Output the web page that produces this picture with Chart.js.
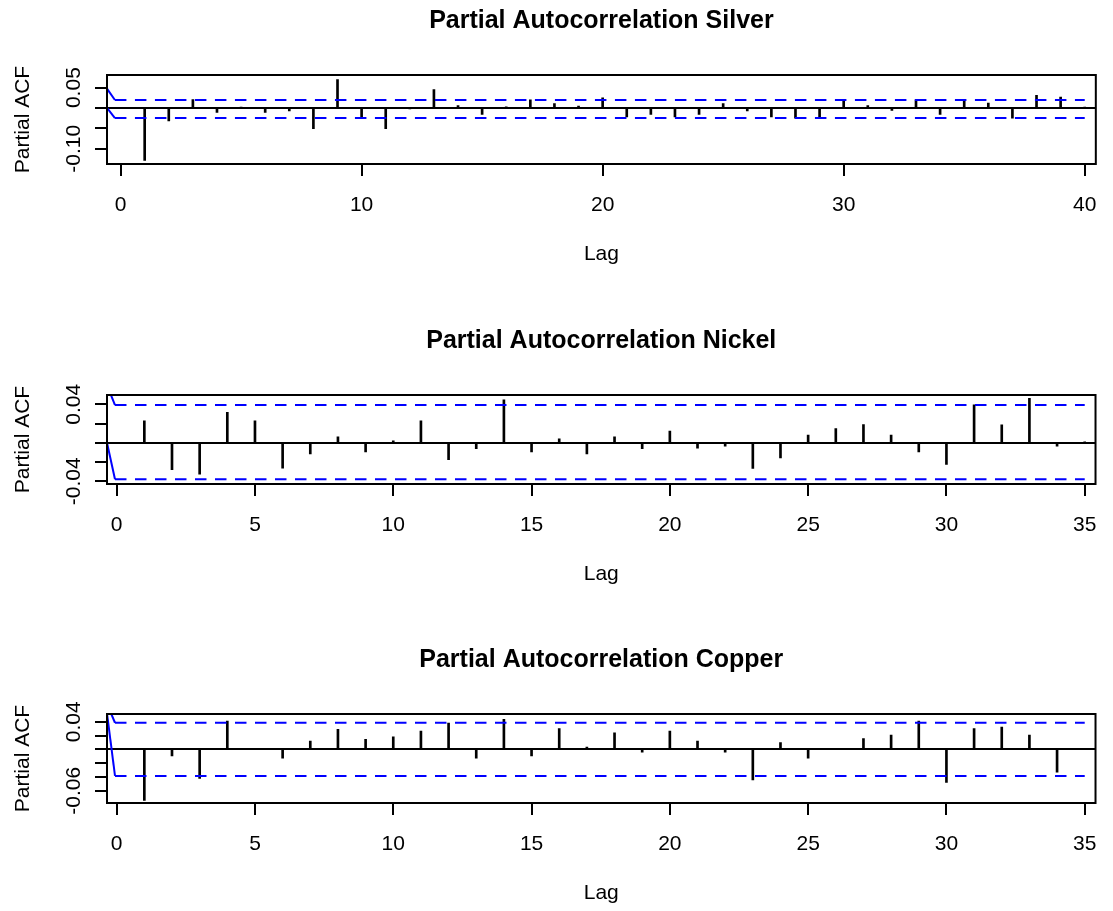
<!DOCTYPE html>
<html>
<head>
<meta charset="utf-8">
<script src="https://cdn.jsdelivr.net/npm/chart.js@4"></script>
<style>
  body { margin: 0; width: 1113px; height: 911px; overflow: hidden; background: #fff; position: relative; }
  canvas { position: absolute; left: 0; }
</style>
</head>
<body>
<canvas id="silver" width="1113" height="300" style="top:0px"></canvas>
<canvas id="nickel" width="1113" height="300" style="top:320px"></canvas>
<canvas id="copper" width="1113" height="300" style="top:639px"></canvas>
<script>
// lags
const lags40 = [1, 2, 3, 4, 5, 6, 7, 8, 9, 10, 11, 12, 13, 14, 15, 16, 17, 18, 19, 20,
  21, 22, 23, 24, 25, 26, 27, 28, 29, 30, 31, 32, 33, 34, 35, 36, 37, 38, 39, 40];
const lags35 = [1, 2, 3, 4, 5, 6, 7, 8, 9, 10, 11, 12, 13, 14, 15, 16, 17, 18, 19, 20,
  21, 22, 23, 24, 25, 26, 27, 28, 29, 30, 31, 32, 33, 34, 35];

// partial autocorrelations
const silverPacf = [-0.129, -0.032, 0.0205, -0.011, 0.002, -0.011, -0.007, -0.051, 0.070, -0.026,
  -0.051, -0.002, 0.045, 0.006, -0.016, 0.003, 0.020, 0.011, 0.005, 0.025,
  -0.022, -0.016, -0.022, -0.016, 0.011, -0.007, -0.022, -0.025, -0.026, 0.017,
  0.006, -0.006, 0.020, -0.016, 0.019, 0.012, -0.025, 0.031, 0.027, 0.002];
const nickelPacf = [0.0228, -0.028, -0.0326, 0.0316, 0.0228, -0.0263, -0.0116, 0.0063, -0.0095, 0.002,
  0.0228, -0.0175, -0.006, 0.0446, -0.0095, 0.0042, -0.0116, 0.0063, -0.006, 0.0123,
  -0.0056, -0.0035, -0.0267, -0.0158, 0.0081, 0.0147, 0.019, 0.0081, -0.0095, -0.0225,
  0.0396, 0.0186, 0.0463, -0.0035, 0.001];
const copperPacf = [-0.074, -0.0097, -0.042, 0.041, 0.001, -0.013, 0.012, 0.029, 0.0145, 0.018,
  0.0266, 0.038, -0.013, 0.0435, -0.0097, 0.030, 0.0034, 0.024, -0.004, 0.0266,
  0.012, -0.004, -0.0444, 0.0097, -0.013, 0.0005, 0.0155, 0.0208, 0.041, -0.048,
  0.030, 0.0324, 0.0208, -0.033, 0.0005];

// confidence bounds (blue lines)
const silverBoundLags = [-0.563, -0.234, 40];
const silverUpper = [0.0475, 0.0197, 0.0197];
const silverLower = [0, -0.0246, -0.0246];
const nickelBoundLags = [-0.35, -0.061, 35];
const nickelUpper = [0.06, 0.0392, 0.0392];
const nickelLower = [0, -0.0378, -0.0378];
const copperBoundLags = [-0.35, -0.061, 35];
const copperUpper = [0.066, 0.0385, 0.0385];
const copperLower = [0.052, -0.0385, -0.0385];

// axis ticks
const silverXTicks = [0, 10, 20, 30, 40];
const metalXTicks = [0, 5, 10, 15, 20, 25, 30, 35];
const silverYTicks = [-0.10, -0.05, 0, 0.05];
const silverYLabels = ['-0.10', '', '', '0.05'];
const nickelYTicks = [-0.04, -0.02, 0, 0.02, 0.04];
const nickelYLabels = ['-0.04', '', '', '', '0.04'];
const copperYTicks = [-0.06, -0.04, -0.02, 0, 0.02, 0.04];
const copperYLabels = ['-0.06', '', '', '', '', '0.04'];

Chart.defaults.font.family = '"Liberation Sans", Arial, sans-serif';
Chart.defaults.color = '#000';

const axisFont = { size: 21 };

// draws the full box around the plot region
const boxPlugin = {
  id: 'box',
  afterDraw(chart) {
    const a = chart.chartArea;
    const ctx = chart.ctx;
    ctx.save();
    ctx.strokeStyle = '#000';
    ctx.lineWidth = 2;
    ctx.strokeRect(a.left, a.top, a.right - a.left, a.bottom - a.top);
    ctx.restore();
  }
};

function boundLine(lags, vals) {
  return {
    type: 'line',
    data: lags.map((x, i) => ({ x: x, y: vals[i] })),
    borderColor: '#0000ff',
    borderWidth: 2,
    pointRadius: 0,
    fill: false,
    order: 0,
    segment: {
      borderDash: ctx => ctx.p0DataIndex === 0 ? [] : [11.5, 8.5]
    }
  };
}

function makePanel(id, p) {
  new Chart(document.getElementById(id), {
    type: 'bar',
    data: {
      datasets: [
        {
          data: p.lags.map((x, i) => ({ x: x, y: p.pacf[i] })),
          backgroundColor: '#000',
          borderWidth: 0,
          barThickness: 2,
          grouped: false,
          order: 1
        },
        boundLine(p.boundLags, p.upper),
        boundLine(p.boundLags, p.lower)
      ]
    },
    options: {
      responsive: false,
      animation: false,
      events: [],
      layout: { padding: { left: 0, right: 8, top: 0, bottom: 33 } },
      plugins: {
        legend: { display: false },
        tooltip: { enabled: false },
        title: {
          display: true,
          text: p.title,
          fullSize: false,
          color: '#000',
          font: { size: 25, weight: 'bold', lineHeight: 1.2 },
          padding: { top: 5.7, bottom: 39.3 }
        }
      },
      scales: {
        x: {
          type: 'linear',
          min: p.xMin,
          max: p.xMax,
          offset: false,
          afterBuildTicks: s => { s.ticks = p.xTicks.map(v => ({ value: v })); },
          afterFit: s => { s.height = 103; },
          border: { display: false },
          grid: { offset: false, drawOnChartArea: false, color: '#000', lineWidth: 2, tickLength: 12 },
          ticks: { font: axisFont, color: '#000', padding: 16.4, maxRotation: 0, autoSkip: false,
            callback: v => String(v) },
          title: { display: true, text: 'Lag', font: axisFont, color: '#000', padding: 0 }
        },
        y: {
          type: 'linear',
          min: p.yMin,
          max: p.yMax,
          afterBuildTicks: s => { s.ticks = p.yTicks.map(v => ({ value: v })); },
          afterFit: s => { s.width = 107; },
          border: { display: false },
          grid: {
            color: c => (c.tick && c.tick.value === 0) ? '#000' : 'rgba(0,0,0,0)',
            tickColor: '#000',
            lineWidth: 2,
            tickLength: 12
          },
          ticks: { font: axisFont, color: '#000', minRotation: 90, maxRotation: 90,
            crossAlign: 'center', padding: -3.5, autoSkip: false,
            callback: (v, i) => p.yLabels[i] },
          title: { display: true, text: 'Partial ACF', font: axisFont, color: '#000',
            padding: { top: 10.4, bottom: 0 } }
        }
      }
    },
    plugins: [boxPlugin]
  });
}

makePanel('silver', {
  title: 'Partial Autocorrelation Silver',
  lags: lags40, pacf: silverPacf,
  boundLags: silverBoundLags, upper: silverUpper, lower: silverLower,
  xTicks: silverXTicks, yTicks: silverYTicks, yLabels: silverYLabels,
  xMin: -0.563, xMax: 40.46, yMin: -0.1375, yMax: 0.081
});
makePanel('nickel', {
  title: 'Partial Autocorrelation Nickel',
  lags: lags35, pacf: nickelPacf,
  boundLags: nickelBoundLags, upper: nickelUpper, lower: nickelLower,
  xTicks: metalXTicks, yTicks: nickelYTicks, yLabels: nickelYLabels,
  xMin: -0.35, xMax: 35.39, yMin: -0.0428, yMax: 0.0497
});
makePanel('copper', {
  title: 'Partial Autocorrelation Copper',
  lags: lags35, pacf: copperPacf,
  boundLags: copperBoundLags, upper: copperUpper, lower: copperLower,
  xTicks: metalXTicks, yTicks: copperYTicks, yLabels: copperYLabels,
  xMin: -0.35, xMax: 35.39, yMin: -0.0778, yMax: 0.0512
});
</script>
</body>
</html>
